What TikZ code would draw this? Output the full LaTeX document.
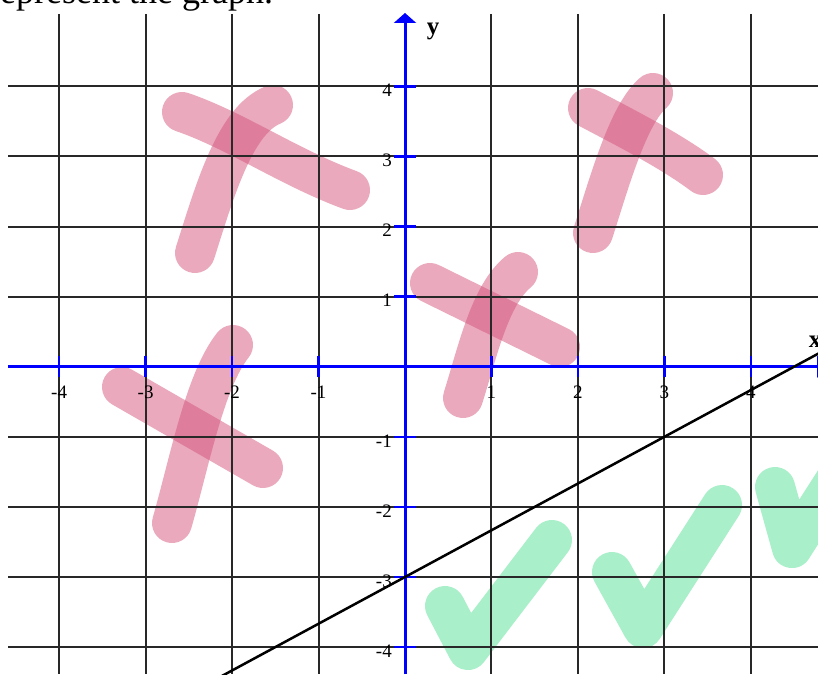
\documentclass[tikz,border=0pt]{standalone}
\usepackage{fontspec}
\setmainfont{Liberation Serif}
\usetikzlibrary{arrows.meta}
\definecolor{pinkmark}{RGB}{213,83,123}
\definecolor{greenmark}{RGB}{169,239,201}
\definecolor{gridgray}{RGB}{40,40,40}
\definecolor{axisblue}{RGB}{0,0,255}
\begin{document}
\begin{tikzpicture}[x=1pt,y=-1pt,
  gridline/.style={draw=gridgray, line width=2pt},
  axisline/.style={draw=axisblue, line width=3pt},
  axtick/.style={draw=axisblue, line width=2.5pt},
  pinkstroke/.style={draw=pinkmark, draw opacity=0.5, line width=40pt, line cap=round},
  greenstroke/.style={draw=greenmark, line width=40pt, line cap=round, line join=round},
  xlab/.style={font=\fontsize{19}{19}\selectfont, inner sep=0pt, anchor=center},
  ylab/.style={font=\fontsize{19}{19}\selectfont, inner sep=0pt, anchor=east},
  axlab/.style={font=\fontsize{25}{25}\selectfont\bfseries, inner sep=0pt},
]
\def\ox{405}
\def\oy{366.7}
\def\ux{86.46}
\def\uy{70.1}
\useasboundingbox (0,0) rectangle (818,674);

% title (cut off at top)
\node[anchor=base west, font=\fontsize{36}{36}\selectfont, inner sep=0pt] (title) at (0,4) {epresent the graph.};

% green check marks
\draw[greenstroke] (445,606) -- (468,650) -- (552,540);
\draw[greenstroke] (612,572) -- (643,628) -- (722,505);
\draw[greenstroke] (775,487) -- (792,548) -- (872,423);

% pink crosses
\draw[pinkstroke] (182,112) .. controls (235,130) and (290,168) .. (350,190);
\draw[pinkstroke] (195,253) .. controls (215,190) and (235,120) .. (273,105);
\draw[pinkstroke] (588,108) .. controls (620,125) and (670,150) .. (703,175);
\draw[pinkstroke] (593,233) .. controls (610,180) and (628,115) .. (653,93);
\draw[pinkstroke] (430,283) -- (560,347);
\draw[pinkstroke] (463,398) .. controls (478,350) and (490,295) .. (518,272);
\draw[pinkstroke] (122,387) -- (263,468);
\draw[pinkstroke] (172,523) .. controls (190,460) and (205,380) .. (233,345);

% grid
\foreach \i in {-4,...,4} {
  \draw[gridline] ({\ox+\i*\ux},14) -- ({\ox+\i*\ux},674);
  \draw[gridline] (8,{\oy-\i*\uy}) -- (818,{\oy-\i*\uy});
}

% axes
\draw[axisline, -{Triangle[width=22pt,length=10pt]}] (\ox,674) -- (\ox,13);
\draw[axisline, -{Triangle[width=22pt,length=10pt]}] (8,\oy) -- (827,\oy);

% ticks and labels
\foreach \i in {-4,-3,-2,-1,1,2,3,4} {
  \draw[axtick] ({\ox+\i*\ux},{\oy-11}) -- ({\ox+\i*\ux},{\oy+10});
  \draw[axtick] ({\ox-11},{\oy-\i*\uy}) -- ({\ox+11},{\oy-\i*\uy});
  \node[xlab] (xl\i) at ({\ox+\i*\ux},392) {\i};
  \node[ylab] (yl\i) at (392,{\oy-\i*\uy+4}) {\i};
}
\node[axlab] (ylabel) at (433,31) {y};
\node[axlab] (xlabel) at (815,342) {x};

% the line y = 2x/3 - 3
\coordinate (lineA) at ({\ox-2.2*\ux},{\oy+4.4667*\uy});
\coordinate (lineB) at ({\ox+4.9*\ux},{\oy-0.2667*\uy});
\draw[line width=2.5pt, black] (lineA) -- (lineB);
\end{tikzpicture}
\end{document}
